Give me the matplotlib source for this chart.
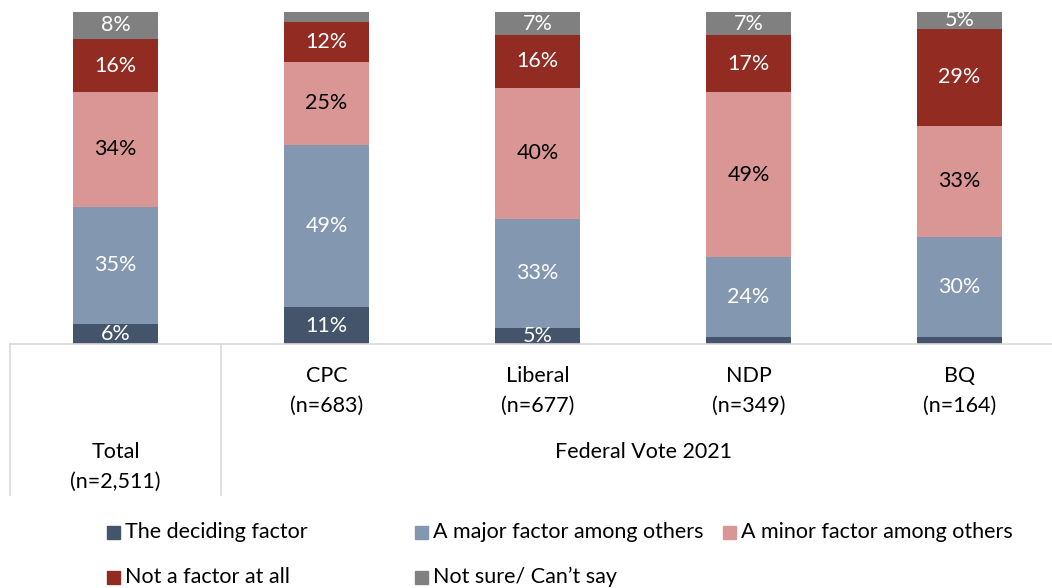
import numpy as np
import matplotlib
matplotlib.use('Agg')
import matplotlib.pyplot as plt
from matplotlib.patches import Rectangle

# data (percent)
groups = ['Total', 'CPC', 'Liberal', 'NDP', 'BQ']
group_labels = ['Total\n(n=2,511)', 'CPC\n(n=683)', 'Liberal\n(n=677)', 'NDP\n(n=349)', 'BQ\n(n=164)']
series = ['The deciding factor', 'A major factor among others', 'A minor factor among others',
          'Not a factor at all', 'Not sure/ Can\u2019t say']
deciding = [6, 11, 5, 2, 2]
major = [35, 49, 33, 24, 30]
minor = [34, 25, 40, 49, 33]
not_factor = [16, 12, 16, 17, 29]
not_sure = [8, 3, 7, 7, 5]
colors = ['#44546A', '#8497B0', '#DA9694', '#922B21', '#808080']
label_colors = ['white', 'white', 'black', 'white', 'white']

plt.rcParams['font.family'] = ['Lato', 'DejaVu Sans']
FS = 15.5

W, H = 1052, 588
fig = plt.figure(figsize=(W / 100, H / 100), dpi=100)
# axes placed in pixel terms
x0, x1, ytop, ybot = 10, 1052, 12, 344
ax = fig.add_axes([x0 / W, 1 - ybot / H, (x1 - x0) / W, (ybot - ytop) / H])

data = np.array([deciding, major, minor, not_factor, not_sure], dtype=float)
pct = data / data.sum(axis=0) * 100  # 100% stacked
x = np.arange(len(groups))
bottom = np.zeros(len(groups))
for i, name in enumerate(series):
    bars = ax.bar(x, pct[i], 0.4, bottom=bottom, color=colors[i], label=name)
    for j, b in enumerate(bars):
        if data[i, j] >= 4:
            ax.text(b.get_x() + b.get_width() / 2, bottom[j] + pct[i, j] / 2,
                    f'{int(data[i, j])}%', ha='center', va='center',
                    color=label_colors[i], fontsize=FS)
    bottom += pct[i]

ax.set_xlim(-0.5, -0.5 + (x1 - x0) / 211)
ax.set_ylim(0, 100)
ax.set_yticks([])
ax.set_xticks([])
for s in ['top', 'left', 'right']:
    ax.spines[s].set_visible(False)
ax.spines['bottom'].set_color('#D9D9D9')
ax.spines['bottom'].set_linewidth(1.2)

# category table below the bars
tr = ax.get_xaxis_transform()
px = 1 / (ybot - ytop)
for xv in [-0.5, 0.5]:
    ax.plot([xv, xv], [0, -(495 - ybot) * px], transform=tr, color='#D9D9D9',
            lw=1.2, clip_on=False)
for j, lab in enumerate(group_labels):
    yc = 467 if j == 0 else 391
    ax.text(x[j], -(yc - ybot) * px, lab, transform=tr, ha='center', va='center',
            fontsize=FS, linespacing=1.6)
ax.text(x[1:].mean(), -(452 - ybot) * px, 'Federal Vote 2021', transform=tr,
        ha='center', va='center', fontsize=FS)

# legend, laid out like the original (3 fixed columns)
leg_x = [107, 415, 723, 107, 415]
leg_y = [532, 532, 532, 577, 577]
sq = 13
for i, name in enumerate(series):
    fig.add_artist(Rectangle((leg_x[i] / W, 1 - (leg_y[i] + sq / 2) / H), sq / W, sq / H,
                             transform=fig.transFigure, color=colors[i]))
    fig.text((leg_x[i] + 18) / W, 1 - leg_y[i] / H, name, ha='left', va='center',
             fontsize=FS)

fig.savefig('out.png', dpi=100)
